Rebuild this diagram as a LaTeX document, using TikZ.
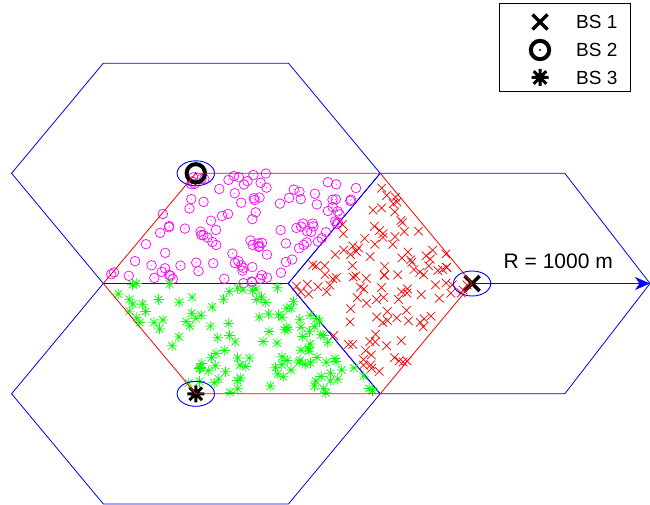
\documentclass[tikz,border=0pt]{standalone}
\usepackage{fontspec}
\setmainfont{Liberation Sans}
\usetikzlibrary{arrows.meta}
\definecolor{mblue}{rgb}{0,0,1}
\definecolor{mred}{rgb}{1,0,0}
\definecolor{mmag}{rgb}{1,0,1}
\definecolor{mgreen}{rgb}{0,1,0}
\begin{document}
\begin{tikzpicture}[x=1pt,y=-1pt,
  hexline/.style={draw=mblue,line width=0.8pt,line join=miter},
  redline/.style={draw=mred,line width=0.8pt},
  ellline/.style={draw=mblue,line width=0.9pt},
  magpt/.style={draw=mmag,line width=0.7pt},
  redpt/.style={draw=mred,line width=0.7pt},
  grnpt/.style={draw=mgreen,line width=0.7pt},
  bsmark/.style={draw=black,line width=3pt},
  legtext/.style={font=\fontsize{19}{20}\selectfont,anchor=base west,inner sep=0pt},
  rlabel/.style={font=\fontsize{21}{22}\selectfont,anchor=base west,inner sep=0pt},
  pics/mx/.style={code={\draw[bsmark,line width=3.4pt] (-7.5,-7.5)--(7.5,7.5) (-7.5,7.5)--(7.5,-7.5);}},
  pics/mo/.style={code={\draw[bsmark,line width=4pt] (0,0) circle (9.2pt); \fill[black] (0,0) circle (1.2pt);}},
  pics/mstar/.style={code={\draw[bsmark,line width=3pt] (-8.5,0)--(8.5,0) (0,-8.5)--(0,8.5) (-6.3,-6.3)--(6.3,6.3) (-6.3,6.3)--(6.3,-6.3);}},
  pics/ptx/.style={code={\draw[redpt] (-4.3,-4.3)--(4.3,4.3) (-4.3,4.3)--(4.3,-4.3);}},
  pics/pto/.style={code={\draw[magpt] (0,0) circle (4.8pt); \fill[mmag] (0,0) circle (0.5pt);}},
  pics/ptstar/.style={code={\draw[grnpt] (-5.3,0)--(5.3,0) (0,-5.3)--(0,5.3) (-3.8,-3.8)--(3.8,3.8) (-3.8,3.8)--(3.8,-3.8);}}
]
\useasboundingbox (0,0) rectangle (650,505);
\clip (0,0) rectangle (650,505);

% base stations
\coordinate (bs1) at (472.1,283.5);
\coordinate (bs2) at (195.8,173.3);
\coordinate (bs3) at (195.8,393.8);
\coordinate (cc) at (288.2,283.5);

% blue hexagons
\draw[hexline] (11.6,173.3) -- (103.3,63.2) -- (288.5,63.2) -- (380.2,173.3) -- (288.2,283.5) -- (103.3,283.5) -- cycle;
\draw[hexline] (11.6,393.8) -- (103.3,283.5) -- (288.2,283.5) -- (380.2,393.8) -- (288.5,503.9) -- (103.3,503.9) -- cycle;
\draw[hexline] (288.2,283.5) -- (380.2,173.3) -- (564.8,173.3) -- (650,283.5) -- (564.8,393.8) -- (380.2,393.8) -- cycle;

% random user points
\pgfmathsetseed{4711}
\foreach \i in {1,...,118}{
  \pgfmathsetmacro\uu{rnd}\pgfmathsetmacro\vv{rnd}
  \pic at ({196+184*\uu-93*\vv},{173.3+110*\vv}) {pto};
}
\foreach \i in {1,...,118}{
  \pgfmathsetmacro\uu{rnd}\pgfmathsetmacro\vv{rnd}
  \pic at ({288.2+92*\uu+92*\vv},{283.5-110*\uu+110*\vv}) {ptx};
}
\foreach \i in {1,...,118}{
  \pgfmathsetmacro\uu{rnd}\pgfmathsetmacro\vv{rnd}
  \pic at ({103.3+185*\uu+93*\vv},{283.5+110*\vv}) {ptstar};
}

% BS markers
\pic at (bs1) {mx};
\pic at (bs2) {mo};
\pic at (bs3) {mstar};

% ellipses
\draw[ellline] (bs1) ellipse [x radius=18.7pt,y radius=12.5pt];
\draw[ellline] (bs2) ellipse [x radius=18.7pt,y radius=12.5pt];
\draw[ellline] (bs3) ellipse [x radius=18.7pt,y radius=12.5pt];

% red hexagon through base stations
\draw[redline] (bs2) -- (380.2,173.3) -- (bs1) -- (380.2,393.8) -- (bs3) -- (103.3,283.5) -- cycle;

% radius arrow
\coordinate (tip) at (650,283.5);
\draw[draw=mblue,line width=1.1pt,-{Stealth[length=15pt,width=13pt,inset=4.5pt]}] (bs1) -- (tip);
\node[rlabel] (rl) at (503.5,268.3) {R = 1000 m};

% legend
\draw[black,line width=0.8pt,fill=white] (499.5,3.3) rectangle (630,91.7);
\pic at (540,22) {mx};
\pic at (540,50) {mo};
\pic at (540,77.5) {mstar};
\node[legtext] (l1) at (576,28.3) {BS 1};
\node[legtext] (l2) at (576,56.7) {BS 2};
\node[legtext] (l3) at (576,85) {BS 3};
\end{tikzpicture}
\end{document}
